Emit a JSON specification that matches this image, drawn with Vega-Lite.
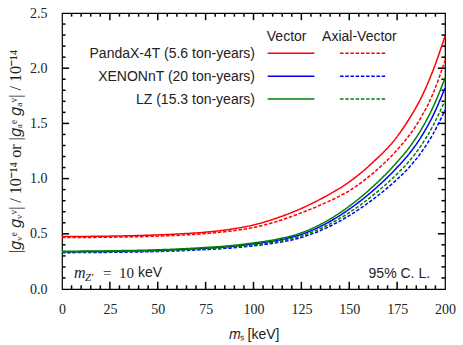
{
  "$schema": "https://vega.github.io/schema/vega-lite/v6.json",
  "width": 383,
  "height": 276,
  "autosize": {"type": "none"},
  "padding": {"left": 62, "top": 13, "right": 18, "bottom": 56},
  "background": "white",
  "config": {
    "view": {"stroke": "#000", "strokeWidth": 1.2},
    "axis": {"domain": false, "grid": false, "ticks": false, "labelFont": "Liberation Serif", "labelFontSize": 14, "labelColor": "#222", "titleFont": "Liberation Serif", "titleFontSize": 14, "titleColor": "#222", "titleFontWeight": "normal"},
    "text": {"font": "Liberation Sans", "fontSize": 14, "fill": "#222"}
  },
  "datasets": {
    "curves": [
      {"m": 0, "v": 0.475, "exp": "PandaX-4T", "type": "Vector"},
      {"m": 25, "v": 0.479, "exp": "PandaX-4T", "type": "Vector"},
      {"m": 50, "v": 0.49, "exp": "PandaX-4T", "type": "Vector"},
      {"m": 62.5, "v": 0.5, "exp": "PandaX-4T", "type": "Vector"},
      {"m": 75, "v": 0.515, "exp": "PandaX-4T", "type": "Vector"},
      {"m": 87.5, "v": 0.54, "exp": "PandaX-4T", "type": "Vector"},
      {"m": 100, "v": 0.58, "exp": "PandaX-4T", "type": "Vector"},
      {"m": 112.5, "v": 0.645, "exp": "PandaX-4T", "type": "Vector"},
      {"m": 125, "v": 0.73, "exp": "PandaX-4T", "type": "Vector"},
      {"m": 137.5, "v": 0.838, "exp": "PandaX-4T", "type": "Vector"},
      {"m": 150, "v": 0.97, "exp": "PandaX-4T", "type": "Vector"},
      {"m": 162.5, "v": 1.15, "exp": "PandaX-4T", "type": "Vector"},
      {"m": 175, "v": 1.38, "exp": "PandaX-4T", "type": "Vector"},
      {"m": 181.25, "v": 1.54, "exp": "PandaX-4T", "type": "Vector"},
      {"m": 187.5, "v": 1.73, "exp": "PandaX-4T", "type": "Vector"},
      {"m": 193.75, "v": 1.98, "exp": "PandaX-4T", "type": "Vector"},
      {"m": 200, "v": 2.29, "exp": "PandaX-4T", "type": "Vector"},
      {"m": 0, "v": 0.466, "exp": "PandaX-4T", "type": "Axial-Vector"},
      {"m": 25, "v": 0.469, "exp": "PandaX-4T", "type": "Axial-Vector"},
      {"m": 50, "v": 0.479, "exp": "PandaX-4T", "type": "Axial-Vector"},
      {"m": 62.5, "v": 0.488, "exp": "PandaX-4T", "type": "Axial-Vector"},
      {"m": 75, "v": 0.502, "exp": "PandaX-4T", "type": "Axial-Vector"},
      {"m": 87.5, "v": 0.524, "exp": "PandaX-4T", "type": "Axial-Vector"},
      {"m": 100, "v": 0.557, "exp": "PandaX-4T", "type": "Axial-Vector"},
      {"m": 112.5, "v": 0.613, "exp": "PandaX-4T", "type": "Axial-Vector"},
      {"m": 125, "v": 0.69, "exp": "PandaX-4T", "type": "Axial-Vector"},
      {"m": 137.5, "v": 0.78, "exp": "PandaX-4T", "type": "Axial-Vector"},
      {"m": 150, "v": 0.89, "exp": "PandaX-4T", "type": "Axial-Vector"},
      {"m": 162.5, "v": 1.05, "exp": "PandaX-4T", "type": "Axial-Vector"},
      {"m": 175, "v": 1.26, "exp": "PandaX-4T", "type": "Axial-Vector"},
      {"m": 181.25, "v": 1.39, "exp": "PandaX-4T", "type": "Axial-Vector"},
      {"m": 187.5, "v": 1.555, "exp": "PandaX-4T", "type": "Axial-Vector"},
      {"m": 193.75, "v": 1.77, "exp": "PandaX-4T", "type": "Axial-Vector"},
      {"m": 200, "v": 2.07, "exp": "PandaX-4T", "type": "Axial-Vector"},
      {"m": 0, "v": 0.337, "exp": "XENONnT", "type": "Vector"},
      {"m": 25, "v": 0.341, "exp": "XENONnT", "type": "Vector"},
      {"m": 50, "v": 0.349, "exp": "XENONnT", "type": "Vector"},
      {"m": 62.5, "v": 0.358, "exp": "XENONnT", "type": "Vector"},
      {"m": 75, "v": 0.369, "exp": "XENONnT", "type": "Vector"},
      {"m": 87.5, "v": 0.384, "exp": "XENONnT", "type": "Vector"},
      {"m": 100, "v": 0.408, "exp": "XENONnT", "type": "Vector"},
      {"m": 112.5, "v": 0.441, "exp": "XENONnT", "type": "Vector"},
      {"m": 125, "v": 0.495, "exp": "XENONnT", "type": "Vector"},
      {"m": 137.5, "v": 0.589, "exp": "XENONnT", "type": "Vector"},
      {"m": 150, "v": 0.723, "exp": "XENONnT", "type": "Vector"},
      {"m": 162.5, "v": 0.893, "exp": "XENONnT", "type": "Vector"},
      {"m": 175, "v": 1.101, "exp": "XENONnT", "type": "Vector"},
      {"m": 181.25, "v": 1.224, "exp": "XENONnT", "type": "Vector"},
      {"m": 187.5, "v": 1.377, "exp": "XENONnT", "type": "Vector"},
      {"m": 193.75, "v": 1.571, "exp": "XENONnT", "type": "Vector"},
      {"m": 200, "v": 1.82, "exp": "XENONnT", "type": "Vector"},
      {"m": 0, "v": 0.329, "exp": "XENONnT", "type": "Axial-Vector"},
      {"m": 25, "v": 0.332, "exp": "XENONnT", "type": "Axial-Vector"},
      {"m": 50, "v": 0.34, "exp": "XENONnT", "type": "Axial-Vector"},
      {"m": 62.5, "v": 0.347, "exp": "XENONnT", "type": "Axial-Vector"},
      {"m": 75, "v": 0.357, "exp": "XENONnT", "type": "Axial-Vector"},
      {"m": 87.5, "v": 0.37, "exp": "XENONnT", "type": "Axial-Vector"},
      {"m": 100, "v": 0.391, "exp": "XENONnT", "type": "Axial-Vector"},
      {"m": 112.5, "v": 0.42, "exp": "XENONnT", "type": "Axial-Vector"},
      {"m": 125, "v": 0.467, "exp": "XENONnT", "type": "Axial-Vector"},
      {"m": 137.5, "v": 0.549, "exp": "XENONnT", "type": "Axial-Vector"},
      {"m": 150, "v": 0.665, "exp": "XENONnT", "type": "Axial-Vector"},
      {"m": 162.5, "v": 0.813, "exp": "XENONnT", "type": "Axial-Vector"},
      {"m": 175, "v": 0.994, "exp": "XENONnT", "type": "Axial-Vector"},
      {"m": 181.25, "v": 1.101, "exp": "XENONnT", "type": "Axial-Vector"},
      {"m": 187.5, "v": 1.235, "exp": "XENONnT", "type": "Axial-Vector"},
      {"m": 193.75, "v": 1.404, "exp": "XENONnT", "type": "Axial-Vector"},
      {"m": 200, "v": 1.62, "exp": "XENONnT", "type": "Axial-Vector"},
      {"m": 0, "v": 0.342, "exp": "LZ", "type": "Vector"},
      {"m": 25, "v": 0.346, "exp": "LZ", "type": "Vector"},
      {"m": 50, "v": 0.355, "exp": "LZ", "type": "Vector"},
      {"m": 62.5, "v": 0.364, "exp": "LZ", "type": "Vector"},
      {"m": 75, "v": 0.376, "exp": "LZ", "type": "Vector"},
      {"m": 87.5, "v": 0.392, "exp": "LZ", "type": "Vector"},
      {"m": 100, "v": 0.417, "exp": "LZ", "type": "Vector"},
      {"m": 112.5, "v": 0.452, "exp": "LZ", "type": "Vector"},
      {"m": 125, "v": 0.509, "exp": "LZ", "type": "Vector"},
      {"m": 137.5, "v": 0.609, "exp": "LZ", "type": "Vector"},
      {"m": 150, "v": 0.75, "exp": "LZ", "type": "Vector"},
      {"m": 162.5, "v": 0.93, "exp": "LZ", "type": "Vector"},
      {"m": 175, "v": 1.15, "exp": "LZ", "type": "Vector"},
      {"m": 181.25, "v": 1.28, "exp": "LZ", "type": "Vector"},
      {"m": 187.5, "v": 1.442, "exp": "LZ", "type": "Vector"},
      {"m": 193.75, "v": 1.647, "exp": "LZ", "type": "Vector"},
      {"m": 200, "v": 1.91, "exp": "LZ", "type": "Vector"},
      {"m": 0, "v": 0.334, "exp": "LZ", "type": "Axial-Vector"},
      {"m": 25, "v": 0.338, "exp": "LZ", "type": "Axial-Vector"},
      {"m": 50, "v": 0.345, "exp": "LZ", "type": "Axial-Vector"},
      {"m": 62.5, "v": 0.353, "exp": "LZ", "type": "Axial-Vector"},
      {"m": 75, "v": 0.364, "exp": "LZ", "type": "Axial-Vector"},
      {"m": 87.5, "v": 0.378, "exp": "LZ", "type": "Axial-Vector"},
      {"m": 100, "v": 0.4, "exp": "LZ", "type": "Axial-Vector"},
      {"m": 112.5, "v": 0.431, "exp": "LZ", "type": "Axial-Vector"},
      {"m": 125, "v": 0.481, "exp": "LZ", "type": "Axial-Vector"},
      {"m": 137.5, "v": 0.568, "exp": "LZ", "type": "Axial-Vector"},
      {"m": 150, "v": 0.692, "exp": "LZ", "type": "Axial-Vector"},
      {"m": 162.5, "v": 0.85, "exp": "LZ", "type": "Axial-Vector"},
      {"m": 175, "v": 1.043, "exp": "LZ", "type": "Axial-Vector"},
      {"m": 181.25, "v": 1.157, "exp": "LZ", "type": "Axial-Vector"},
      {"m": 187.5, "v": 1.299, "exp": "LZ", "type": "Axial-Vector"},
      {"m": 193.75, "v": 1.479, "exp": "LZ", "type": "Axial-Vector"},
      {"m": 200, "v": 1.71, "exp": "LZ", "type": "Axial-Vector"}
    ],
    "xmajor": [{"t": 25}, {"t": 50}, {"t": 75}, {"t": 100}, {"t": 125}, {"t": 150}, {"t": 175}],
    "xminor": [{"t": 5}, {"t": 10}, {"t": 15}, {"t": 20}, {"t": 30}, {"t": 35}, {"t": 40}, {"t": 45}, {"t": 55}, {"t": 60}, {"t": 65}, {"t": 70}, {"t": 80}, {"t": 85}, {"t": 90}, {"t": 95}, {"t": 105}, {"t": 110}, {"t": 115}, {"t": 120}, {"t": 130}, {"t": 135}, {"t": 140}, {"t": 145}, {"t": 155}, {"t": 160}, {"t": 165}, {"t": 170}, {"t": 180}, {"t": 185}, {"t": 190}, {"t": 195}],
    "ymajor": [{"t": 0.5}, {"t": 1.0}, {"t": 1.5}, {"t": 2.0}],
    "yminor": [{"t": 0.1}, {"t": 0.2}, {"t": 0.3}, {"t": 0.4}, {"t": 0.6}, {"t": 0.7}, {"t": 0.8}, {"t": 0.9}, {"t": 1.1}, {"t": 1.2}, {"t": 1.3}, {"t": 1.4}, {"t": 1.6}, {"t": 1.7}, {"t": 1.8}, {"t": 1.9}, {"t": 2.1}, {"t": 2.2}, {"t": 2.3}, {"t": 2.4}],
    "one": [{}]
  },
  "layer": [
    {
      "data": {"name": "xmajor"},
      "mark": {"type": "rule", "color": "#000000", "strokeWidth": 1.5},
      "encoding": {"x": {"field": "t", "type": "quantitative", "scale": {"domain": [0, 200], "nice": false, "zero": false},
          "axis": {"orient": "bottom", "title": "𝑚ₛ [keV]", "titleFont": "Liberation Sans", "titlePadding": 11,
            "values": [0, 25, 50, 75, 100, 125, 150, 175, 200], "labelPadding": 13, "labelFlush": false}},
        "y": {"datum": 0, "type": "quantitative", "scale": {"domain": [0, 2.5], "nice": false},
          "axis": {"orient": "left", "title": "|𝑔ᵥᵉ 𝑔ᵥᵛ| / 10⁻¹⁴  or  |𝑔ₐᵉ 𝑔ₐᵛ| / 10⁻¹⁴", "titleFontSize": 16, "titlePadding": 6,
            "values": [0, 0.5, 1.0, 1.5, 2.0, 2.5], "format": ".1f", "labelPadding": 15, "labelFlush": false}},
        "y2": {"datum": 0.065}}
    },
    {
      "data": {"name": "xmajor"},
      "mark": {"type": "rule", "color": "#000000", "strokeWidth": 1.5},
      "encoding": {"x": {"field": "t", "type": "quantitative"}, "y": {"datum": 2.5}, "y2": {"datum": 2.435}}
    },
    {
      "data": {"name": "xminor"},
      "mark": {"type": "rule", "color": "#000000", "strokeWidth": 1.5},
      "encoding": {"x": {"field": "t", "type": "quantitative"}, "y": {"datum": 0}, "y2": {"datum": 0.033}}
    },
    {
      "data": {"name": "xminor"},
      "mark": {"type": "rule", "color": "#000000", "strokeWidth": 1.5},
      "encoding": {"x": {"field": "t", "type": "quantitative"}, "y": {"datum": 2.5}, "y2": {"datum": 2.467}}
    },
    {
      "data": {"name": "ymajor"},
      "mark": {"type": "rule", "color": "#000000", "strokeWidth": 1.5},
      "encoding": {"y": {"field": "t", "type": "quantitative"}, "x": {"datum": 0}, "x2": {"datum": 3.7}}
    },
    {
      "data": {"name": "ymajor"},
      "mark": {"type": "rule", "color": "#000000", "strokeWidth": 1.5},
      "encoding": {"y": {"field": "t", "type": "quantitative"}, "x": {"datum": 200}, "x2": {"datum": 196.3}}
    },
    {
      "data": {"name": "yminor"},
      "mark": {"type": "rule", "color": "#000000", "strokeWidth": 1.5},
      "encoding": {"y": {"field": "t", "type": "quantitative"}, "x": {"datum": 0}, "x2": {"datum": 1.85}}
    },
    {
      "data": {"name": "yminor"},
      "mark": {"type": "rule", "color": "#000000", "strokeWidth": 1.5},
      "encoding": {"y": {"field": "t", "type": "quantitative"}, "x": {"datum": 200}, "x2": {"datum": 198.15}}
    },
    {
      "data": {"name": "curves"},
      "mark": {"type": "line", "interpolate": "monotone", "strokeWidth": 1.5},
      "encoding": {
        "x": {"field": "m", "type": "quantitative"},
        "y": {"field": "v", "type": "quantitative"},
        "color": {"field": "exp", "type": "nominal", "scale": {"domain": ["PandaX-4T", "XENONnT", "LZ"], "range": ["#ff0000", "#0000ff", "#008000"]}, "legend": null},
        "strokeDash": {"field": "type", "type": "nominal", "scale": {"domain": ["Vector", "Axial-Vector"], "range": [[1, 0], [3.5, 1.7]]}, "legend": null},
        "detail": {"field": "type"}
      }
    },
    {
      "data": {"name": "one"},
      "mark": {"type": "text", "text": "95% C. L.", "align": "right", "baseline": "alphabetic"},
      "encoding": {"x": {"datum": 192.2}, "y": {"datum": 0.097}}
    },
    {
      "data": {"name": "one"},
      "mark": {"type": "text", "text": "PandaX-4T (5.6 ton-years)", "align": "right", "baseline": "middle"},
      "encoding": {"x": {"datum": 100.8}, "y": {"datum": 2.129}}
    },
    {
      "data": {"name": "one"},
      "mark": {"type": "text", "text": "XENONnT (20 ton-years)", "align": "right", "baseline": "middle"},
      "encoding": {"x": {"datum": 100.8}, "y": {"datum": 1.917}}
    },
    {
      "data": {"name": "one"},
      "mark": {"type": "text", "text": "LZ (15.3 ton-years)", "align": "right", "baseline": "middle"},
      "encoding": {"x": {"datum": 100.8}, "y": {"datum": 1.712}}
    },
    {
      "data": {"name": "one"},
      "mark": {"type": "text", "text": "Vector", "align": "center", "baseline": "middle"},
      "encoding": {"x": {"datum": 117.3}, "y": {"datum": 2.285}}
    },
    {
      "data": {"name": "one"},
      "mark": {"type": "text", "text": "Axial-Vector", "align": "center", "baseline": "middle"},
      "encoding": {"x": {"datum": 155.3}, "y": {"datum": 2.285}}
    },
    {
      "data": {"name": "one"},
      "mark": {"type": "rule", "color": "#ff0000", "strokeWidth": 1.5},
      "encoding": {"x": {"datum": 107.4}, "x2": {"datum": 131.8}, "y": {"datum": 2.135}}
    },
    {
      "data": {"name": "one"},
      "mark": {"type": "rule", "color": "#0000ff", "strokeWidth": 1.5},
      "encoding": {"x": {"datum": 107.4}, "x2": {"datum": 131.8}, "y": {"datum": 1.926}}
    },
    {
      "data": {"name": "one"},
      "mark": {"type": "rule", "color": "#008000", "strokeWidth": 1.5},
      "encoding": {"x": {"datum": 107.4}, "x2": {"datum": 131.8}, "y": {"datum": 1.721}}
    },
    {
      "data": {"name": "one"},
      "mark": {"type": "rule", "color": "#ff0000", "strokeWidth": 1.5, "strokeDash": [3.5, 1.7]},
      "encoding": {"x": {"datum": 145.2}, "x2": {"datum": 169.2}, "y": {"datum": 2.135}}
    },
    {
      "data": {"name": "one"},
      "mark": {"type": "rule", "color": "#0000ff", "strokeWidth": 1.5, "strokeDash": [3.5, 1.7]},
      "encoding": {"x": {"datum": 145.2}, "x2": {"datum": 169.2}, "y": {"datum": 1.926}}
    },
    {
      "data": {"name": "one"},
      "mark": {"type": "rule", "color": "#008000", "strokeWidth": 1.5, "strokeDash": [3.5, 1.7]},
      "encoding": {"x": {"datum": 145.2}, "x2": {"datum": 169.2}, "y": {"datum": 1.721}}
    },
    {
      "data": {"name": "one"},
      "mark": {"type": "text", "text": "m", "font": "Liberation Serif", "fontStyle": "italic", "fontSize": 16, "align": "left", "baseline": "alphabetic"},
      "encoding": {"x": {"datum": 6.3}, "y": {"datum": 0.104}}
    },
    {
      "data": {"name": "one"},
      "mark": {"type": "text", "text": "Z′", "font": "Liberation Serif", "fontStyle": "italic", "fontSize": 11, "align": "left", "baseline": "alphabetic"},
      "encoding": {"x": {"datum": 12.0}, "y": {"datum": 0.068}}
    },
    {
      "data": {"name": "one"},
      "mark": {"type": "text", "text": "=", "font": "Liberation Serif", "fontSize": 15, "align": "left", "baseline": "alphabetic"},
      "encoding": {"x": {"datum": 21.4}, "y": {"datum": 0.104}}
    },
    {
      "data": {"name": "one"},
      "mark": {"type": "text", "text": "10", "font": "Liberation Serif", "fontSize": 15, "align": "left", "baseline": "alphabetic"},
      "encoding": {"x": {"datum": 29.8}, "y": {"datum": 0.104}}
    },
    {
      "data": {"name": "one"},
      "mark": {"type": "text", "text": "keV", "align": "left", "baseline": "alphabetic"},
      "encoding": {"x": {"datum": 39.7}, "y": {"datum": 0.108}}
    }
  ]
}
